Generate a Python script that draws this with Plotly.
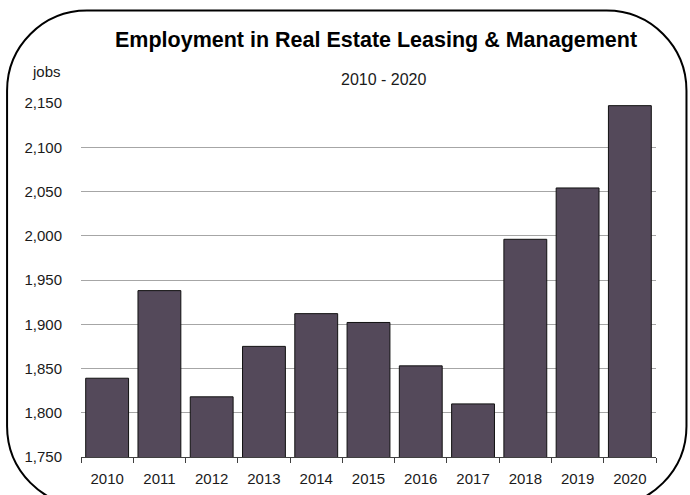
import plotly.graph_objects as go

# Employment in real estate leasing & management, 2010-2020
years = ["2010", "2011", "2012", "2013", "2014", "2015",
         "2016", "2017", "2018", "2019", "2020"]
jobs = [1839, 1938, 1818, 1875, 1912, 1902, 1853, 1810, 1996, 2054, 2147]
y_ticks = [1750, 1800, 1850, 1900, 1950, 2000, 2050, 2100, 2150]

W, H = 690, 495
L, R, T, B = 81, 33.5, 103.3, 38.3
PW, PH = W - L - R, H - T - B

FONT = "Liberation Sans, Arial, sans-serif"
TXT = "#1a1a1a"
FS = 15


def px(x):
    return (x - L) / PW


def py(y):
    return (H - B - y) / PH


def frame_path(x0, y0, x1, y1, r):
    k = 0.5523 * r
    pts = [
        ("M", [(x0 + r, y0)]),
        ("L", [(x1 - r, y0)]),
        ("C", [(x1 - r + k, y0), (x1, y0 + r - k), (x1, y0 + r)]),
        ("L", [(x1, y1 - r)]),
        ("C", [(x1, y1 - r + k), (x1 - r + k, y1), (x1 - r, y1)]),
        ("L", [(x0 + r, y1)]),
        ("C", [(x0 + r - k, y1), (x0, y1 - r + k), (x0, y1 - r)]),
        ("L", [(x0, y0 + r)]),
        ("C", [(x0, y0 + r - k), (x0 + r - k, y0), (x0 + r, y0)]),
    ]
    out = []
    for cmd, coords in pts:
        out.append(cmd + " " + " ".join(f"{px(a):.5f},{py(b):.5f}" for a, b in coords))
    return " ".join(out) + " Z"


fig = go.Figure(
    go.Bar(
        x=years,
        y=jobs,
        marker=dict(color="#54495A", line=dict(color="#111111", width=1)),
        hoverinfo="x+y",
    )
)

fig.update_layout(
    width=W,
    height=H,
    margin=dict(l=L, r=R, t=T, b=B),
    paper_bgcolor="white",
    plot_bgcolor="white",
    bargap=0.18,
    showlegend=False,
    font=dict(family=FONT, size=FS, color=TXT),
    xaxis=dict(
        type="category",
        automargin=False,
        showline=True,
        linecolor="#404040",
        linewidth=1,
        ticks="outside",
        tickson="boundaries",
        ticklen=5,
        tickcolor="#404040",
        showgrid=False,
        ticklabelstandoff=8,
        tickfont=dict(family=FONT, size=FS, color=TXT),
    ),
    yaxis=dict(
        range=[1750, 2150],
        automargin=False,
        tickvals=y_ticks,
        ticktext=[f"{v:,}" for v in y_ticks],
        showline=False,
        ticks="",
        showgrid=True,
        gridcolor="#a6a6a6",
        gridwidth=1.3,
        zeroline=False,
        ticklabelstandoff=18,
        tickfont=dict(family=FONT, size=FS, color=TXT),
    ),
    annotations=[
        dict(text="<b>Employment in Real Estate Leasing & Management</b>",
             xref="paper", yref="paper", x=px(376), y=py(40),
             xanchor="center", yanchor="middle", showarrow=False,
             font=dict(family=FONT, size=21.5, color="#000000")),
        dict(text="2010 - 2020",
             xref="paper", yref="paper", x=px(384), y=py(80),
             xanchor="center", yanchor="middle", showarrow=False,
             font=dict(family=FONT, size=16, color=TXT)),
        dict(text="jobs",
             xref="paper", yref="paper", x=px(63), y=py(72),
             xanchor="right", yanchor="middle", showarrow=False,
             font=dict(family=FONT, size=FS, color=TXT)),
    ],
    shapes=[
        dict(type="path", xref="paper", yref="paper",
             path=frame_path(7, 11, 687, 506, 80),
             line=dict(color="#000000", width=2), layer="above"),
    ],
)

fig.write_html("out.html")
